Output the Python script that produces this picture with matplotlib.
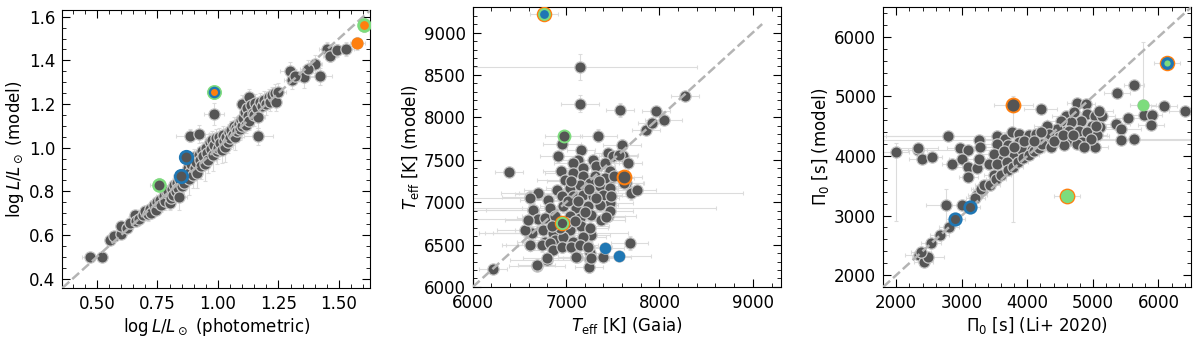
import numpy as np
import matplotlib
matplotlib.use('Agg')
import matplotlib.pyplot as plt
from matplotlib.ticker import MultipleLocator, AutoMinorLocator

# Panel 1: luminosity, photometric vs model
lum_phot = [0.47, 0.52, 0.555, 0.57, 0.60, 0.60, 0.625, 0.635, 0.655, 0.66,
            0.675, 0.69, 0.70, 0.71, 0.72, 0.725, 0.735, 0.745, 0.75, 0.76,
            0.765, 0.775, 0.78, 0.79, 0.795, 0.80, 0.805, 0.81, 0.815, 0.82,
            0.825, 0.83, 0.835, 0.84, 0.845, 0.85, 0.855, 0.86, 0.87, 0.875,
            0.88, 0.885, 0.89, 0.895, 0.90, 0.905, 0.91, 0.915, 0.92, 0.925,
            0.93, 0.935, 0.94, 0.945, 0.95, 0.955, 0.96, 0.965, 0.97, 0.975,
            0.98, 0.985, 0.99, 0.995, 1.00, 1.005, 1.01, 1.015, 1.02, 1.025,
            1.03, 1.035, 1.04, 1.045, 1.05, 1.055, 1.06, 1.065, 1.07, 1.075,
            1.08, 1.085, 1.09, 1.095, 1.10, 1.10, 1.105, 1.11, 1.115, 1.12,
            1.125, 1.13, 1.13, 1.135, 1.145, 1.15, 1.155, 1.16, 1.165, 1.175,
            1.18, 1.19, 1.20, 1.21, 1.215, 1.225, 1.235, 1.24, 1.25, 1.166,
            0.984, 0.885, 0.922, 1.297, 1.304, 1.355, 1.421, 1.40, 1.37, 1.449,
            1.462, 1.49, 1.531, 1.32, 0.757, 0.867, 0.846, 0.984, 1.603, 1.576]
lum_model = [0.50, 0.50, 0.575, 0.595, 0.605, 0.64, 0.63, 0.655, 0.69, 0.665,
             0.675, 0.69, 0.71, 0.695, 0.72, 0.70, 0.735, 0.715, 0.75, 0.76,
             0.735, 0.78, 0.755, 0.79, 0.80, 0.745, 0.77, 0.81, 0.785, 0.83,
             0.80, 0.84, 0.815, 0.775, 0.85, 0.825, 0.86, 0.84, 0.875, 0.905,
             0.855, 0.89, 0.925, 0.875, 0.955, 0.905, 0.935, 0.885, 0.965, 0.945,
             0.915, 0.985, 0.96, 0.925, 1.00, 0.975, 0.945, 1.025, 0.995, 1.035,
             0.965, 1.01, 1.045, 0.985, 1.00, 1.05, 1.02, 0.99, 1.06, 1.03,
             1.005, 1.05, 1.025, 1.07, 1.045, 1.08, 1.06, 1.10, 1.05, 1.09,
             1.075, 1.11, 1.085, 1.125, 1.10, 1.20, 1.135, 1.165, 1.105, 1.18,
             1.145, 1.23, 1.12, 1.195, 1.16, 1.15, 1.205, 1.18, 1.14, 1.21,
             1.19, 1.22, 1.20, 1.23, 1.21, 1.24, 1.25, 1.21, 1.255, 1.052,
             1.153, 1.054, 1.062, 1.353, 1.31, 1.322, 1.327, 1.383, 1.36, 1.452,
             1.421, 1.447, 1.452, 1.33, 0.831, 0.955, 0.869, 1.254, 1.562, 1.479]
lum_phot_err = [0.03, 0.02, 0.02, 0.02, 0.02, 0.02, 0.02, 0.02, 0.02, 0.02,
                0.02, 0.02, 0.03, 0.02, 0.02, 0.03, 0.02, 0.02, 0.03, 0.02,
                0.02, 0.03, 0.02, 0.02, 0.03, 0.02, 0.02, 0.03, 0.02, 0.02,
                0.03, 0.02, 0.02, 0.03, 0.02, 0.03, 0.02, 0.02, 0.03, 0.02,
                0.03, 0.02, 0.03, 0.02, 0.03, 0.02, 0.03, 0.02, 0.03, 0.02,
                0.03, 0.02, 0.03, 0.02, 0.03, 0.02, 0.03, 0.02, 0.03, 0.02,
                0.03, 0.02, 0.03, 0.02, 0.03, 0.02, 0.03, 0.02, 0.03, 0.02,
                0.03, 0.02, 0.03, 0.02, 0.03, 0.02, 0.03, 0.02, 0.03, 0.02,
                0.03, 0.02, 0.03, 0.02, 0.03, 0.02, 0.03, 0.02, 0.03, 0.02,
                0.03, 0.02, 0.03, 0.02, 0.03, 0.02, 0.03, 0.02, 0.03, 0.02,
                0.03, 0.02, 0.03, 0.02, 0.03, 0.02, 0.03, 0.02, 0.03, 0.06,
                0.04, 0.06, 0.04, 0.04, 0.03, 0.05, 0.05, 0.03, 0.03, 0.03,
                0.03, 0.03, 0.03, 0.03, 0.04, 0.03, 0.03, 0.03, 0.02, 0.03]
lum_model_err = [0.02, 0.02, 0.02, 0.02, 0.02, 0.02, 0.02, 0.03, 0.02, 0.02,
                 0.02, 0.02, 0.02, 0.03, 0.02, 0.02, 0.03, 0.02, 0.03, 0.02,
                 0.03, 0.02, 0.04, 0.03, 0.02, 0.03, 0.02, 0.03, 0.04, 0.03,
                 0.05, 0.03, 0.04, 0.06, 0.03, 0.05, 0.03, 0.06, 0.04, 0.03,
                 0.07, 0.04, 0.04, 0.06, 0.04, 0.05, 0.04, 0.07, 0.04, 0.05,
                 0.06, 0.04, 0.05, 0.08, 0.04, 0.05, 0.06, 0.04, 0.05, 0.04,
                 0.07, 0.05, 0.04, 0.06, 0.05, 0.04, 0.05, 0.06, 0.04, 0.05,
                 0.07, 0.04, 0.05, 0.04, 0.05, 0.04, 0.05, 0.04, 0.06, 0.04,
                 0.05, 0.04, 0.05, 0.04, 0.05, 0.04, 0.04, 0.05, 0.04, 0.04,
                 0.05, 0.04, 0.04, 0.05, 0.04, 0.05, 0.04, 0.04, 0.05, 0.04,
                 0.04, 0.04, 0.05, 0.04, 0.04, 0.04, 0.04, 0.04, 0.04, 0.04,
                 0.05, 0.03, 0.04, 0.04, 0.04, 0.05, 0.04, 0.04, 0.04, 0.03,
                 0.03, 0.03, 0.03, 0.03, 0.03, 0.03, 0.03, 0.03, 0.03, 0.03]

# Panel 2: effective temperature, Gaia vs model
teff_gaia = [6220, 6386, 6610, 6699, 6642, 6617, 6610, 6794, 6688, 7255,
             7248, 7113, 7397, 7237, 7266, 7450, 7468, 7475, 7479, 7698,
             7759, 7681, 7638, 7599, 7610, 7149, 7149, 7574, 6954, 6918,
             6947, 8276, 7964, 8046, 7858, 7920, 7344, 7163, 7128, 7447,
             7500, 7571, 7660, 7624, 7075, 7181, 7288, 7323, 7412, 7465,
             7075, 7181, 7305, 7412, 7518, 6986, 6897, 7039, 7146, 7252,
             7358, 7465, 6702, 6614, 6809, 6951, 7075, 7181, 7288, 7394,
             7482, 6649, 6827, 6968, 7110, 7234, 7358, 7465, 6702, 6773,
             6880, 7039, 7146, 7270, 7376, 7429, 6632, 6756, 6862, 7039,
             7163, 7252, 6773, 6880, 6968, 7075, 7181, 7252, 6614, 6738,
             6827, 6862, 6951, 7057, 7146, 7234, 7110, 7270, 6791, 6685,
             6561, 6596, 7000, 7100, 7200, 7020, 7130, 7250, 7350, 7050,
             6930, 6850, 7320, 6766, 6972, 6954, 7617, 7415, 7564]
teff_model = [6209, 7351, 7060, 7100, 6910, 6634, 6489, 6319, 6252, 6327,
              6240, 6358, 6351, 6477, 6615, 6831, 6989, 7107, 7284, 7107,
              7139, 6516, 7225, 7670, 7548, 8593, 8163, 8084, 7690, 7540,
              7363, 8250, 8072, 7966, 7856, 7930, 7785, 7612, 7501, 7580,
              7541, 7561, 7462, 7226, 7462, 7403, 7501, 7423, 7462, 7364,
              7344, 7305, 7305, 7285, 7305, 7265, 7147, 7167, 7206, 7226,
              7186, 7167, 7108, 7048, 7029, 7068, 7068, 7088, 7068, 7088,
              7068, 6910, 6930, 6950, 6930, 6950, 6970, 6891, 6800, 6812,
              6832, 6832, 6812, 6851, 6792, 6824, 6635, 6674, 6635, 6674,
              6713, 6694, 6536, 6556, 6595, 6536, 6595, 6398, 6497, 6497,
              6517, 6438, 6477, 6477, 6497, 6477, 6359, 6339, 6339, 6260,
              6674, 6792, 6750, 6780, 6880, 7010, 7010, 7150, 7250, 7250,
              6700, 6720, 7050, 9223, 7785, 6753, 7296, 6457, 6366]
teff_gaia_err = [150, 150, 300, 250, 500, 400, 250, 400, 300, 200,
                 150, 200, 300, 250, 200, 300, 250, 300, 250, 1200,
                 200, 200, 200, 200, 150, 1250, 200, 150, 200, 200,
                 200, 150, 150, 200, 150, 150, 200, 150, 200, 150,
                 150, 200, 150, 200, 200, 200, 250, 200, 150, 200,
                 300, 200, 250, 200, 150, 300, 350, 250, 200, 300,
                 200, 250, 400, 700, 300, 250, 300, 200, 250, 200,
                 250, 700, 300, 250, 1500, 300, 200, 250, 700, 300,
                 350, 250, 300, 200, 250, 200, 500, 300, 800, 250,
                 300, 200, 300, 250, 300, 200, 250, 200, 300, 250,
                 300, 250, 300, 250, 200, 250, 200, 300, 250, 200,
                 300, 250, 200, 250, 200, 250, 200, 300, 200, 250,
                 200, 250, 250, 150, 200, 200, 200, 200, 350]
teff_model_err = [40, 60, 80, 60, 80, 60, 60, 60, 60, 80,
                  80, 60, 60, 60, 80, 60, 80, 60, 60, 80,
                  60, 80, 60, 80, 60, 150, 100, 80, 60, 60,
                  60, 60, 60, 60, 60, 60, 80, 60, 60, 60,
                  60, 60, 60, 60, 60, 80, 60, 60, 60, 80,
                  60, 60, 80, 60, 60, 80, 60, 60, 80, 60,
                  60, 80, 60, 80, 60, 80, 60, 60, 80, 60,
                  60, 80, 60, 80, 60, 60, 80, 60, 80, 60,
                  80, 60, 80, 60, 60, 80, 80, 60, 80, 60,
                  80, 60, 60, 80, 60, 60, 80, 60, 60, 80,
                  60, 60, 80, 60, 60, 80, 60, 60, 60, 60,
                  80, 60, 60, 60, 80, 60, 60, 80, 60, 60,
                  60, 80, 60, 60, 60, 60, 60, 60, 60]

# Panel 3: asymptotic period spacing, Li+ 2020 vs model
pi_li = [1995, 2324, 2330, 2390, 2542, 2796, 2847, 2969, 3100, 3263,
         3273, 3009, 3100, 3238, 3263, 3100, 3415, 3542, 3659, 3770,
         3872, 4024, 4126, 3542, 3709, 3872, 4024, 3491, 3628, 3796,
         3923, 4075, 3542, 3694, 3491, 3314, 3238, 2756, 3009, 2340,
         2416, 2482, 2380, 2533, 2660, 2802, 2903, 3131, 3208, 3294,
         3345, 3436, 3522, 3598, 3700, 3780, 3860, 3940, 4020, 4100,
         4180, 4260, 4340, 4420, 4500, 3786, 4202, 4760, 4887, 5369,
         5622, 5765, 6079, 6409, 5775, 5902, 5887, 5531, 5359, 5435,
         5430, 5633, 5024, 4582, 4709, 4912, 5039, 5140, 5115, 4988,
         4811, 4658, 4506, 4455, 4633, 4785, 4912, 5064, 4303, 4329,
         4481, 4658, 4836, 4963, 4202, 4227, 4354, 4557, 4760, 4862,
         4603, 6135, 3950, 4100, 3650, 3800, 4400, 4550, 4700, 5050,
         5100]
pi_model = [4065, 4092, 4130, 3953, 3981, 4332, 3858, 4132, 4104, 4260,
            4148, 3953, 3814, 3797, 3953, 3646, 3869, 4332, 4288, 4399,
            4372, 4344, 4372, 4204, 4176, 4232, 4176, 4037, 3953, 4037,
            4092, 4092, 3869, 3897, 3674, 3451, 3339, 3172, 3172, 2335,
            2223, 2307, 2390, 2530, 2669, 2809, 2937, 3144, 3294, 3450,
            3506, 3506, 3618, 3685, 3760, 3820, 3900, 3960, 4020, 4080,
            4140, 4200, 4290, 4380, 4450, 4857, 4790, 4890, 4874, 5058,
            5192, 4857, 4835, 4751, 4690, 4690, 4522, 4634, 4539, 4455,
            4260, 4288, 4148, 4678, 4734, 4706, 4678, 4667, 4483, 4511,
            4595, 4567, 4595, 4455, 4427, 4427, 4400, 4344, 4511, 4372,
            4316, 4260, 4232, 4288, 4399, 4204, 4148, 4176, 4204, 4148,
            3328, 5554, 4250, 4250, 4080, 4150, 4250, 4350, 4350, 4500,
            4750]
pi_li_err = [200, 150, 300, 200, 150, 1000, 150, 200, 1100, 1500,
             300, 200, 200, 150, 200, 150, 200, 1700, 300, 250,
             200, 250, 200, 300, 250, 200, 250, 200, 250, 200,
             250, 200, 200, 250, 150, 150, 150, 300, 200, 200,
             150, 250, 150, 150, 150, 150, 150, 150, 150, 150,
             150, 150, 150, 150, 150, 150, 150, 150, 150, 150,
             150, 150, 150, 150, 150, 300, 250, 150, 150, 200,
             150, 200, 200, 250, 200, 150, 200, 200, 200, 300,
             1200, 1000, 200, 200, 150, 200, 150, 200, 200, 150,
             200, 150, 200, 150, 200, 150, 200, 150, 200, 150,
             200, 150, 200, 150, 200, 150, 200, 150, 200, 150,
             200, 200, 200, 150, 200, 150, 200, 150, 200, 150,
             200]
pi_model_err_lo = [1160, 100, 80, 80, 80, 80, 80, 80, 80, 80,
                   80, 80, 80, 80, 80, 80, 80, 80, 80, 80,
                   80, 80, 80, 80, 80, 80, 80, 80, 80, 80,
                   80, 80, 80, 80, 80, 80, 80, 450, 80, 80,
                   80, 80, 80, 80, 80, 80, 80, 80, 80, 80,
                   80, 80, 80, 80, 80, 80, 80, 80, 80, 80,
                   80, 80, 80, 80, 80, 1960, 80, 80, 80, 80,
                   80, 80, 80, 80, 80, 80, 80, 80, 80, 80,
                   80, 80, 80, 80, 80, 80, 80, 80, 80, 80,
                   80, 80, 80, 80, 80, 80, 80, 80, 80, 80,
                   80, 80, 80, 80, 80, 80, 80, 80, 80, 80,
                   80, 80, 80, 80, 80, 80, 80, 80, 80, 80,
                   80]
pi_model_err_hi = [150, 100, 80, 80, 80, 80, 80, 80, 80, 80,
                   80, 80, 80, 80, 80, 80, 80, 80, 80, 80,
                   80, 80, 80, 80, 80, 80, 80, 80, 80, 80,
                   80, 80, 80, 80, 80, 80, 80, 280, 80, 80,
                   80, 80, 80, 80, 80, 80, 80, 80, 80, 80,
                   80, 80, 80, 80, 80, 80, 80, 80, 80, 80,
                   80, 80, 80, 80, 80, 150, 80, 80, 80, 80,
                   80, 1050, 80, 80, 80, 80, 80, 80, 80, 80,
                   80, 80, 80, 80, 80, 80, 80, 80, 80, 80,
                   80, 80, 80, 80, 80, 80, 80, 80, 80, 80,
                   80, 80, 80, 80, 80, 80, 80, 80, 80, 80,
                   80, 80, 80, 80, 80, 80, 80, 80, 80, 80,
                   80]

# Highlighted stars: stacked rings (drawn in order, outer first)
hl1_x = [0.757, 0.757, 0.984, 0.984, 0.984, 1.603, 1.603, 1.576, 0.867, 0.867, 0.846, 0.846]
hl1_y = [0.831, 0.831, 1.254, 1.254, 1.254, 1.562, 1.562, 1.479, 0.955, 0.955, 0.869, 0.869]
hl1_c = ['g', 'k', 'g', 'b', 'o', 'g', 'o', 'o', 'b', 'k', 'b', 'k']
hl1_s = [110, 50, 115, 70, 25, 110, 40, 75, 120, 50, 120, 50]

hl2_x = [6766, 6766, 6766, 6972, 6972, 6954, 6954, 6954, 7617, 7617, 7415, 7564]
hl2_y = [9223, 9223, 9223, 7785, 7785, 6753, 6753, 6753, 7296, 7296, 6457, 6366]
hl2_c = ['o', 'g', 'b', 'g', 'k', 'o', 'g', 'k', 'o', 'k', 'b', 'b']
hl2_s = [125, 85, 40, 100, 52, 125, 90, 45, 130, 72, 68, 68]

hl3_x = [6135, 6135, 6135, 3786, 3786, 4603, 4603, 5765, 2903, 2903, 3131, 3131]
hl3_y = [5554, 5554, 5554, 4857, 4857, 3328, 3328, 4857, 2937, 2937, 3144, 3144]
hl3_c = ['o', 'b', 'g', 'o', 'k', 'o', 'g', 'g', 'b', 'k', 'b', 'k']
hl3_s = [125, 85, 20, 130, 76, 130, 90, 72, 105, 42, 105, 42]

colors = {'g': '#7ddc7d', 'b': '#1f77b4', 'o': '#ff7f0e', 'k': '#555555'}

fig = plt.figure(figsize=(12, 3.38), dpi=100)
plt.rcParams['font.size'] = 12
ax1 = fig.add_axes([0.052, 0.148, 0.2567, 0.822])
ax2 = fig.add_axes([0.394, 0.151, 0.2567, 0.828])
ax3 = fig.add_axes([0.736, 0.151, 0.2567, 0.828])


def draw_panel(ax, x, y, xerr, yerr, hx, hy, hc, hs, lims):
    ax.errorbar(x, y, xerr=xerr, yerr=yerr, fmt='none', ecolor='#dcdcdc',
                elinewidth=0.8, capsize=1.5, capthick=0.8, zorder=1)
    ax.scatter(x, y, s=66, c='#555555', edgecolors='#c8c8c8', linewidths=0.9, zorder=2)
    ax.plot(lims, lims, '--', color='#b4b4b4', lw=1.8, zorder=3)
    for xi, yi, ci, si in zip(hx, hy, hc, hs):
        ax.scatter(xi, yi, s=si, c=colors[ci], linewidths=0, zorder=4)
    ax.set_xlim(lims)
    ax.set_ylim(lims)
    ax.tick_params(which='both', direction='in', top=True, right=True)
    ax.tick_params(which='major', length=6, labelsize=12, pad=5)
    ax.tick_params(which='minor', length=3)


draw_panel(ax1, lum_phot, lum_model, lum_phot_err, lum_model_err,
           hl1_x, hl1_y, hl1_c, hl1_s, (0.357, 1.63))
ax1.xaxis.set_major_locator(MultipleLocator(0.25))
ax1.xaxis.set_minor_locator(MultipleLocator(0.05))
ax1.yaxis.set_major_locator(MultipleLocator(0.2))
ax1.yaxis.set_minor_locator(MultipleLocator(0.05))
ax1.xaxis.set_major_formatter(plt.FormatStrFormatter('%.2f'))
ax1.yaxis.set_major_formatter(plt.FormatStrFormatter('%.1f'))
ax1.set_xlabel(r'$\log L/L_\odot$ (photometric)', labelpad=2)
ax1.set_ylabel(r'$\log L/L_\odot$ (model)', labelpad=2)

draw_panel(ax2, teff_gaia, teff_model, teff_gaia_err, teff_model_err,
           hl2_x, hl2_y, hl2_c, hl2_s, (6000, 9300))
ax2.lines[-1].set_data([6000, 9100], [6000, 9100])
ax2.xaxis.set_major_locator(MultipleLocator(1000))
ax2.xaxis.set_minor_locator(MultipleLocator(200))
ax2.yaxis.set_major_locator(MultipleLocator(500))
ax2.yaxis.set_minor_locator(MultipleLocator(100))
ax2.set_xlabel(r'$T_{\rm eff}$ [K] (Gaia)', labelpad=2)
ax2.set_ylabel(r'$T_{\rm eff}$ [K] (model)', labelpad=2)

draw_panel(ax3, pi_li, pi_model, pi_li_err, [pi_model_err_lo, pi_model_err_hi],
           hl3_x, hl3_y, hl3_c, hl3_s, (1800, 6500))
ax3.xaxis.set_major_locator(MultipleLocator(1000))
ax3.xaxis.set_minor_locator(MultipleLocator(200))
ax3.yaxis.set_major_locator(MultipleLocator(1000))
ax3.yaxis.set_minor_locator(MultipleLocator(200))
ax3.set_xlabel(r'$\Pi_0$ [s] (Li+ 2020)', labelpad=2)
ax3.set_ylabel(r'$\Pi_0$ [s] (model)', labelpad=2)

fig.savefig('out.png', dpi=100)
